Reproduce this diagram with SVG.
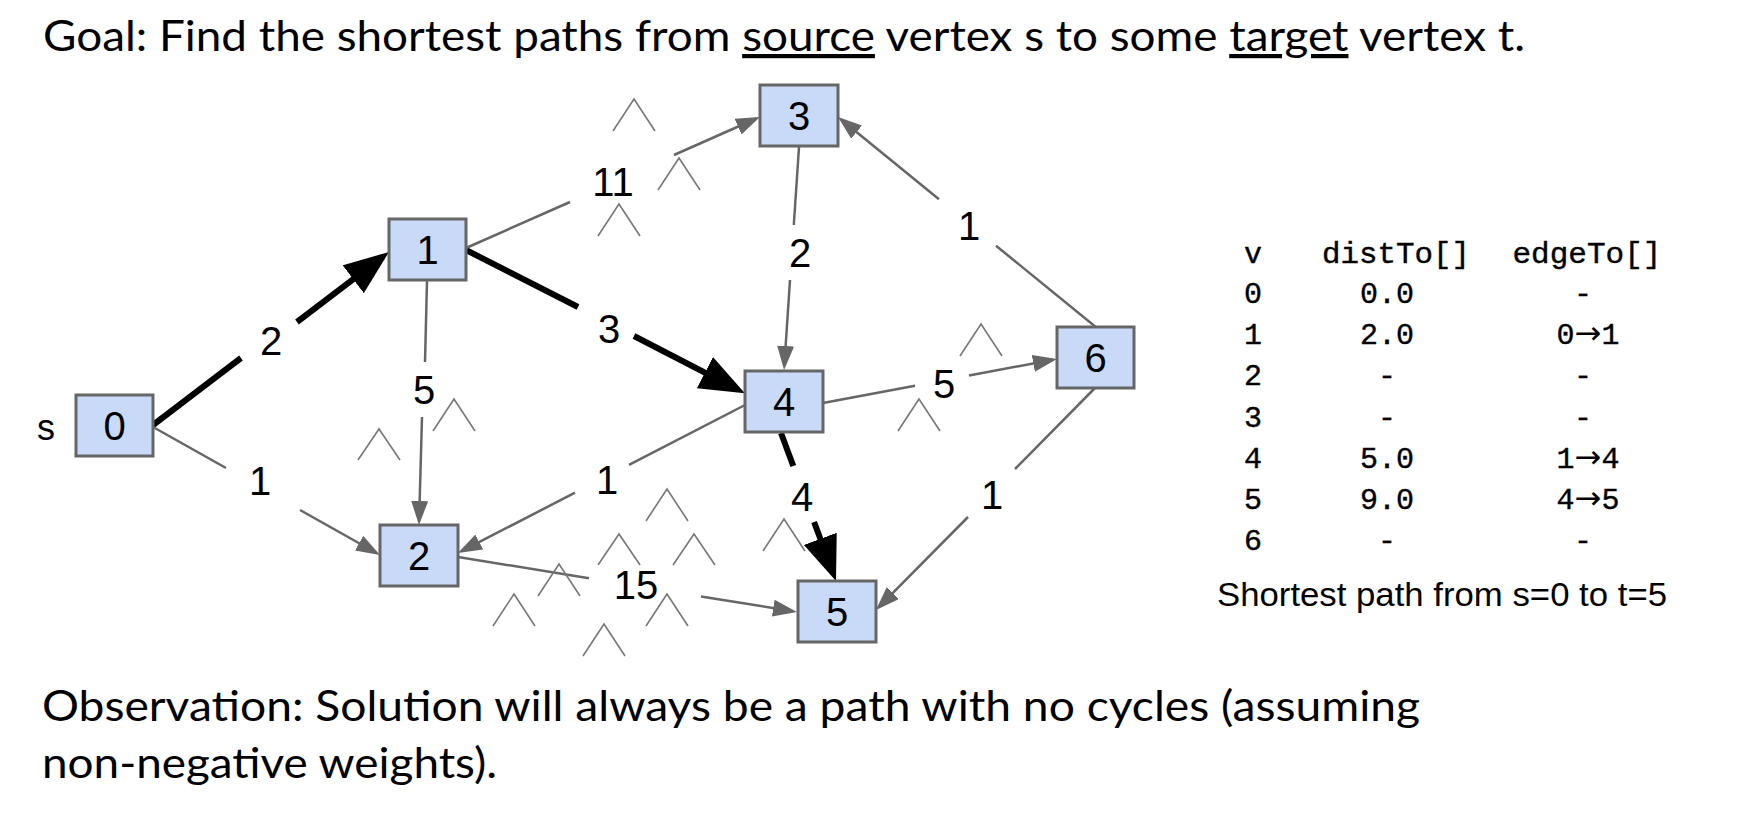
<svg xmlns="http://www.w3.org/2000/svg" width="1755" height="816" viewBox="0 0 1755 816">
<defs>
<style>
.bg{fill:#ffffff}
.node rect{fill:#c9daf8;stroke:#666666;stroke-width:3}
.node text{font-family:"Liberation Sans",Arial,sans-serif;font-size:40px;fill:#000;text-anchor:middle}
.e{stroke:#666666;stroke-width:2.5;fill:none}
.t{stroke:#000000;stroke-width:6;fill:none}
.lbl{font-family:"Liberation Sans",Arial,sans-serif;font-size:40px;fill:#000;text-anchor:middle}
.car{stroke:#777777;stroke-width:1.6;fill:none}
.big{font-family:Lato,"Open Sans",sans-serif;font-size:42px;fill:#000}
.mono{font-family:"Liberation Mono","DejaVu Sans Mono",monospace;font-size:30px;fill:#000;text-anchor:middle;stroke:#000;stroke-width:0.4}
.arr{font-family:"DejaVu Sans",sans-serif;font-size:32px;stroke-width:0}
.cap{font-family:"Liberation Sans",Arial,sans-serif;font-size:34px;fill:#000}
</style>
<marker id="ag" markerUnits="userSpaceOnUse" markerWidth="26" markerHeight="18" refX="20" refY="8.5" orient="auto" viewBox="0 0 26 18">
<path d="M0,0 L24,8.5 L0,17 z" fill="#666666"/>
</marker>
<marker id="ab" markerUnits="userSpaceOnUse" markerWidth="46" markerHeight="36" refX="37" refY="17.5" orient="auto" viewBox="0 0 46 36">
<path d="M0,0 L45,17.5 L0,35 z" fill="#000000"/>
</marker>
</defs>
<rect class="bg" x="0" y="0" width="1755" height="816"/>

<text class="big" x="43" y="51" textLength="1482" lengthAdjust="spacingAndGlyphs">Goal: Find the shortest paths from <tspan text-decoration="underline">source</tspan> vertex s to some <tspan text-decoration="underline">target</tspan> vertex t.</text>

<g id="connectors">
<!-- 0->1 thick -->
<line class="t" x1="153" y1="425" x2="241" y2="358"/>
<line class="t" x1="297" y1="322" x2="382.6" y2="256.8" marker-end="url(#ab)"/>
<!-- 1->4 thick -->
<line class="t" x1="466" y1="250" x2="578" y2="307"/>
<line class="t" x1="634" y1="336" x2="737.8" y2="389.6" marker-end="url(#ab)"/>
<!-- 4->5 thick -->
<line class="t" x1="781" y1="433" x2="793.3" y2="466"/>
<line class="t" x1="814.1" y1="522" x2="833.2" y2="573.5" marker-end="url(#ab)"/>
<!-- 0->2 -->
<line class="e" x1="153" y1="427" x2="226" y2="468"/>
<line class="e" x1="300" y1="510" x2="376.5" y2="553" marker-end="url(#ag)"/>
<!-- 1->2 -->
<line class="e" x1="427" y1="281" x2="425" y2="362"/>
<line class="e" x1="422" y1="417" x2="419.1" y2="521" marker-end="url(#ag)"/>
<!-- 1->3 -->
<line class="e" x1="466" y1="248" x2="570" y2="202"/>
<line class="e" x1="674" y1="155" x2="756.3" y2="118.5" marker-end="url(#ag)"/>
<!-- 3->4 -->
<line class="e" x1="799" y1="147" x2="793.8" y2="225"/>
<line class="e" x1="790" y1="280" x2="784.3" y2="366" marker-end="url(#ag)"/>
<!-- 6->3 -->
<line class="e" x1="1097" y1="328" x2="996" y2="245.7"/>
<line class="e" x1="939" y1="199.3" x2="841.1" y2="119.5" marker-end="url(#ag)"/>
<!-- 4->6 -->
<line class="e" x1="823" y1="403" x2="915" y2="385.7"/>
<line class="e" x1="969" y1="375.5" x2="1053" y2="359.7" marker-end="url(#ag)"/>
<!-- 4->2 -->
<line class="e" x1="745" y1="405" x2="629" y2="464.8"/>
<line class="e" x1="575" y1="492.7" x2="461.5" y2="551.2" marker-end="url(#ag)"/>
<!-- 6->5 -->
<line class="e" x1="1095" y1="388" x2="1015" y2="469"/>
<line class="e" x1="968" y1="517" x2="878.8" y2="607.2" marker-end="url(#ag)"/>
<!-- 2->5 -->
<line class="e" x1="458" y1="557" x2="589" y2="578.2"/>
<line class="e" x1="701" y1="596.4" x2="793" y2="611.3" marker-end="url(#ag)"/>
</g>

<g id="edge-labels">
<text class="lbl" x="271" y="355">2</text>
<text class="lbl" x="260" y="495">1</text>
<text class="lbl" x="424" y="404">5</text>
<text class="lbl" x="613" y="196">11</text>
<text class="lbl" x="609" y="343">3</text>
<text class="lbl" x="800" y="267">2</text>
<text class="lbl" x="969" y="240">1</text>
<text class="lbl" x="944" y="398">5</text>
<text class="lbl" x="607" y="494">1</text>
<text class="lbl" x="802" y="511">4</text>
<text class="lbl" x="992" y="509">1</text>
<text class="lbl" x="636" y="599">15</text>
</g>

<g id="carets">
<polyline class="car" points="613,131 634,99 655,131"/>
<polyline class="car" points="658,190 679,158 700,190"/>
<polyline class="car" points="598,236 619,204 640,236"/>
<polyline class="car" points="358,460 379,429 400,460"/>
<polyline class="car" points="433,431 454,399 475,431"/>
<polyline class="car" points="960,356 981,324 1002,356"/>
<polyline class="car" points="898,431 919,399 940,431"/>
<polyline class="car" points="646,521 667,489 688,521"/>
<polyline class="car" points="598,565 619,534 640,565"/>
<polyline class="car" points="673,565 694,534 715,565"/>
<polyline class="car" points="538,596 559,564 580,596"/>
<polyline class="car" points="493,626 514,594 535,626"/>
<polyline class="car" points="646,626 667,594 688,626"/>
<polyline class="car" points="583,656 604,624 625,656"/>
<polyline class="car" points="763,551 784,519 805,551"/>
</g>

<g id="node0" class="node"><rect x="76" y="395" width="77" height="61"/><text x="114.5" y="440">0</text></g>
<text id="label-s" x="46" y="440" style="font-family:'Liberation Sans',Arial,sans-serif;font-size:36px;fill:#000;text-anchor:middle">s</text>
<g id="node1" class="node"><rect x="389" y="219" width="77" height="61"/><text x="427.5" y="264">1</text></g>
<g id="node2" class="node"><rect x="380" y="525" width="78" height="61"/><text x="419" y="570">2</text></g>
<g id="node3" class="node"><rect x="760" y="85" width="78" height="61"/><text x="799" y="130">3</text></g>
<g id="node4" class="node"><rect x="745" y="371" width="78" height="61"/><text x="784" y="416">4</text></g>
<g id="node5" class="node"><rect x="798" y="581" width="78" height="61"/><text x="837" y="626">5</text></g>
<g id="node6" class="node"><rect x="1057" y="327" width="77" height="61"/><text x="1095.5" y="372">6</text></g>

<g id="table">
<text class="mono" x="1253" y="263">v</text>
<text class="mono" x="1396" y="263" textLength="148" lengthAdjust="spacingAndGlyphs">distTo[]</text>
<text class="mono" x="1587" y="263" textLength="149" lengthAdjust="spacingAndGlyphs">edgeTo[]</text>
<text class="mono" x="1253" y="303">0</text><text class="mono" x="1387" y="303">0.0</text><text class="mono" x="1583" y="303">-</text>
<text class="mono" x="1253" y="344">1</text><text class="mono" x="1387" y="344">2.0</text><text class="mono" x="1588" y="344">0<tspan class="arr">→</tspan>1</text>
<text class="mono" x="1253" y="385">2</text><text class="mono" x="1387" y="385">-</text><text class="mono" x="1583" y="385">-</text>
<text class="mono" x="1253" y="427">3</text><text class="mono" x="1387" y="427">-</text><text class="mono" x="1583" y="427">-</text>
<text class="mono" x="1253" y="468">4</text><text class="mono" x="1387" y="468">5.0</text><text class="mono" x="1588" y="468">1<tspan class="arr">→</tspan>4</text>
<text class="mono" x="1253" y="509">5</text><text class="mono" x="1387" y="509">9.0</text><text class="mono" x="1588" y="509">4<tspan class="arr">→</tspan>5</text>
<text class="mono" x="1253" y="550">6</text><text class="mono" x="1387" y="550">-</text><text class="mono" x="1583" y="550">-</text>
<text class="cap" x="1217" y="606" textLength="450" lengthAdjust="spacingAndGlyphs">Shortest path from s=0 to t=5</text>
</g>

<text class="big" x="42" y="721" textLength="1378" lengthAdjust="spacingAndGlyphs">Observation: Solution will always be a path with no cycles (assuming</text>
<text class="big" x="42" y="778" textLength="455" lengthAdjust="spacingAndGlyphs">non-negative weights).</text>
</svg>
